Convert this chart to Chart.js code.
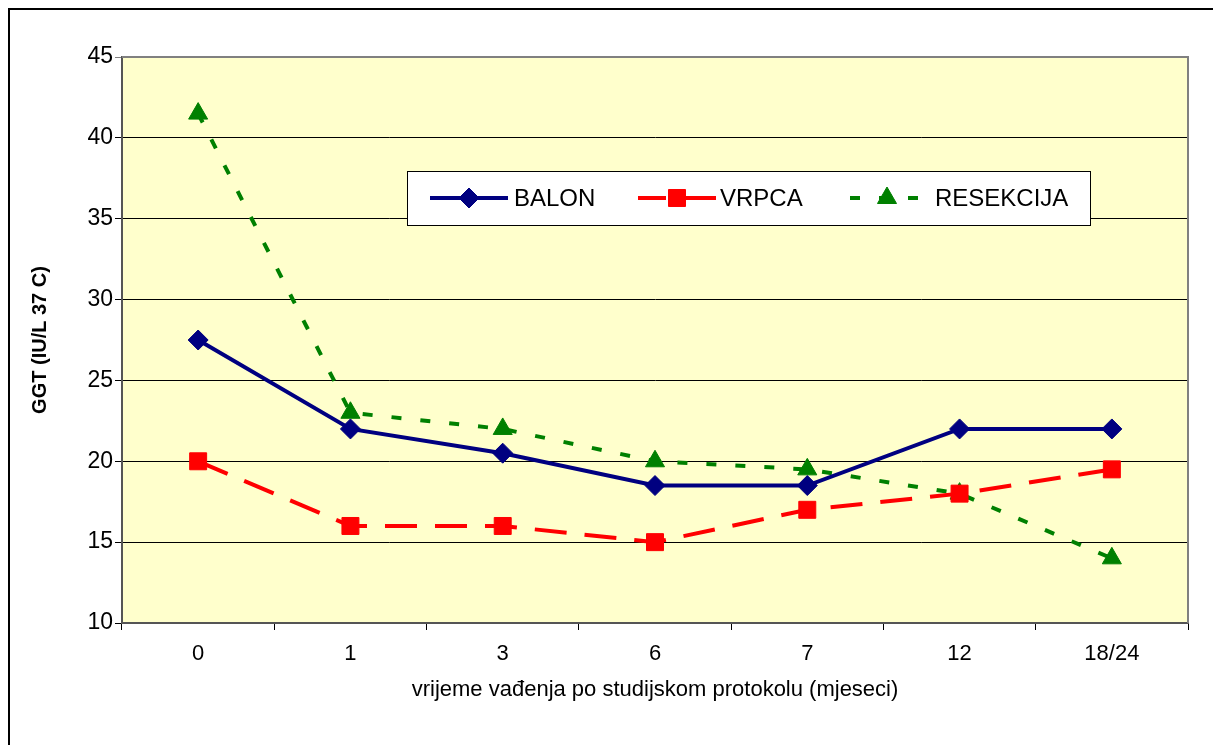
<!DOCTYPE html>
<html>
<head>
<meta charset="utf-8">
<script src="https://cdn.jsdelivr.net/npm/chart.js@4/dist/chart.umd.min.js"></script>
<style>
  html, body { margin: 0; padding: 0; background: #fff; }
  #wrap { width: 1213px; height: 745px; position: relative; }
</style>
</head>
<body>
<div id="wrap"><canvas id="chart" width="1213" height="745"></canvas></div>
<script>
// podaci sa slike
const months = ['0', '1', '3', '6', '7', '12', '18/24'];
const balon = [27.5, 22, 20.5, 18.5, 18.5, 22, 22];
const vrpca = [20, 16, 16, 15, 17, 18, 19.5];
const resekcija = [41.5, 23, 22, 20, 19.5, 18, 14];
const yTicks = [10, 15, 20, 25, 30, 35, 40, 45];

const FONT = "'Liberation Sans', Arial, sans-serif";

// pozadina, okvir i legenda
const decor = {
  id: 'decor',
  beforeDraw(chart) {
    const ctx = chart.ctx;
    const a = chart.chartArea;
    ctx.save();
    ctx.fillStyle = '#fff';
    ctx.fillRect(0, 0, chart.width, chart.height);
    ctx.strokeStyle = '#000';
    ctx.lineWidth = 2;
    ctx.strokeRect(9, 9, 1300, 900);
    ctx.fillStyle = '#FFFFCC';
    ctx.fillRect(a.left, a.top, a.right - a.left, a.bottom - a.top);
    ctx.restore();
  },
  afterDatasetsDraw(chart) {
    const ctx = chart.ctx;
    const a = chart.chartArea;
    ctx.save();
    // sivi rub
    ctx.strokeStyle = '#808080';
    ctx.lineWidth = 2;
    ctx.beginPath();
    ctx.moveTo(a.left, a.top);
    ctx.lineTo(a.right, a.top);
    ctx.lineTo(a.right, a.bottom);
    ctx.stroke();

    // legenda
    const bx = 407, by = 171, bw = 683, bh = 54;
    ctx.fillStyle = '#fff';
    ctx.fillRect(bx, by, bw, bh);
    ctx.strokeStyle = '#000';
    ctx.lineWidth = 1;
    ctx.strokeRect(bx + 0.5, by + 0.5, bw, bh);
    const cy = by + bh / 2;
    const starts = [430, 638, 848];
    const textX = [514, 720, 935];
    chart.data.datasets.forEach((ds, i) => {
      const x0 = starts[i];
      ctx.strokeStyle = ds.borderColor;
      ctx.lineWidth = ds.borderWidth;
      ctx.setLineDash(ds.borderDash || []);
      ctx.lineDashOffset = ds.legendDashOffset || 0;
      ctx.beginPath();
      ctx.moveTo(x0, cy);
      ctx.lineTo(x0 + 78, cy);
      ctx.stroke();
      ctx.setLineDash([]);
      ctx.fillStyle = ds.pointBackgroundColor;
      ctx.strokeStyle = ds.pointBorderColor;
      ctx.lineWidth = 1;
      Chart.helpers.drawPoint(ctx, {
        pointStyle: ds.pointStyle,
        radius: ds.pointRadius,
        borderWidth: 1,
        rotation: 0
      }, x0 + 39, cy);
      ctx.fillStyle = '#000';
      ctx.font = '24px ' + FONT;
      ctx.textBaseline = 'middle';
      ctx.textAlign = 'left';
      ctx.fillText(ds.label, textX[i], cy + 1);
    });
    ctx.restore();
  }
};

new Chart(document.getElementById('chart'), {
  type: 'line',
  data: {
    labels: months,
    datasets: [
      {
        label: 'BALON',
        data: balon,
        borderColor: '#000080',
        borderWidth: 4,
        pointStyle: 'rectRot',
        pointRadius: 10,
        pointBackgroundColor: '#000080',
        pointBorderColor: '#000080',
        pointBorderWidth: 1,
        tension: 0
      },
      {
        label: 'VRPCA',
        data: vrpca,
        borderColor: '#FF0000',
        borderWidth: 4,
        borderDash: [32, 18],
        legendDashOffset: 4,
        pointStyle: 'rect',
        pointRadius: 12,
        pointBackgroundColor: '#FF0000',
        pointBorderColor: '#FF0000',
        pointBorderWidth: 1,
        tension: 0
      },
      {
        label: 'RESEKCIJA',
        data: resekcija,
        borderColor: '#008000',
        borderWidth: 4,
        borderDash: [10, 19],
        legendDashOffset: -2,
        pointStyle: 'triangle',
        pointRadius: 11,
        pointBackgroundColor: '#008000',
        pointBorderColor: '#008000',
        pointBorderWidth: 1,
        tension: 0
      }
    ]
  },
  options: {
    responsive: false,
    animation: false,
    layout: { padding: { left: 0, right: 25, top: 57, bottom: 0 } },
    plugins: {
      legend: { display: false },
      tooltip: { enabled: false }
    },
    scales: {
      x: {
        offset: true,
        grid: {
          offset: true,
          drawOnChartArea: false,
          drawTicks: true,
          tickLength: 7,
          color: '#000'
        },
        border: { color: '#555', width: 2 },
        ticks: {
          color: '#000',
          padding: 11,
          font: { family: FONT, size: 22 },
          maxRotation: 0
        },
        title: {
          display: true,
          text: 'vrijeme vađenja po studijskom protokolu (mjeseci)',
          color: '#000',
          font: { family: FONT, size: 22 },
          padding: { top: 0, bottom: 42 }
        },
        afterFit(scale) { scale.height = 122; }
      },
      y: {
        min: yTicks[0],
        max: yTicks[yTicks.length - 1],
        afterBuildTicks(scale) {
          scale.ticks = yTicks.map(v => ({ value: v }));
        },
        grid: {
          color: ctx => (ctx.tick && ctx.tick.value === 45 ? '#808080' : '#000'),
          lineWidth: 1,
          drawTicks: true,
          tickLength: 7
        },
        border: { color: '#555', width: 2 },
        ticks: {
          color: '#000',
          padding: 2,
          font: { family: FONT, size: 23 }
        },
        title: {
          display: true,
          text: 'GGT (IU/L 37 C)',
          color: '#000',
          font: { family: FONT, size: 20, weight: 'bold' },
          padding: { top: 28, bottom: 0 }
        },
        afterFit(scale) { scale.width = 122; }
      }
    }
  },
  plugins: [decor]
});
</script>
</body>
</html>
